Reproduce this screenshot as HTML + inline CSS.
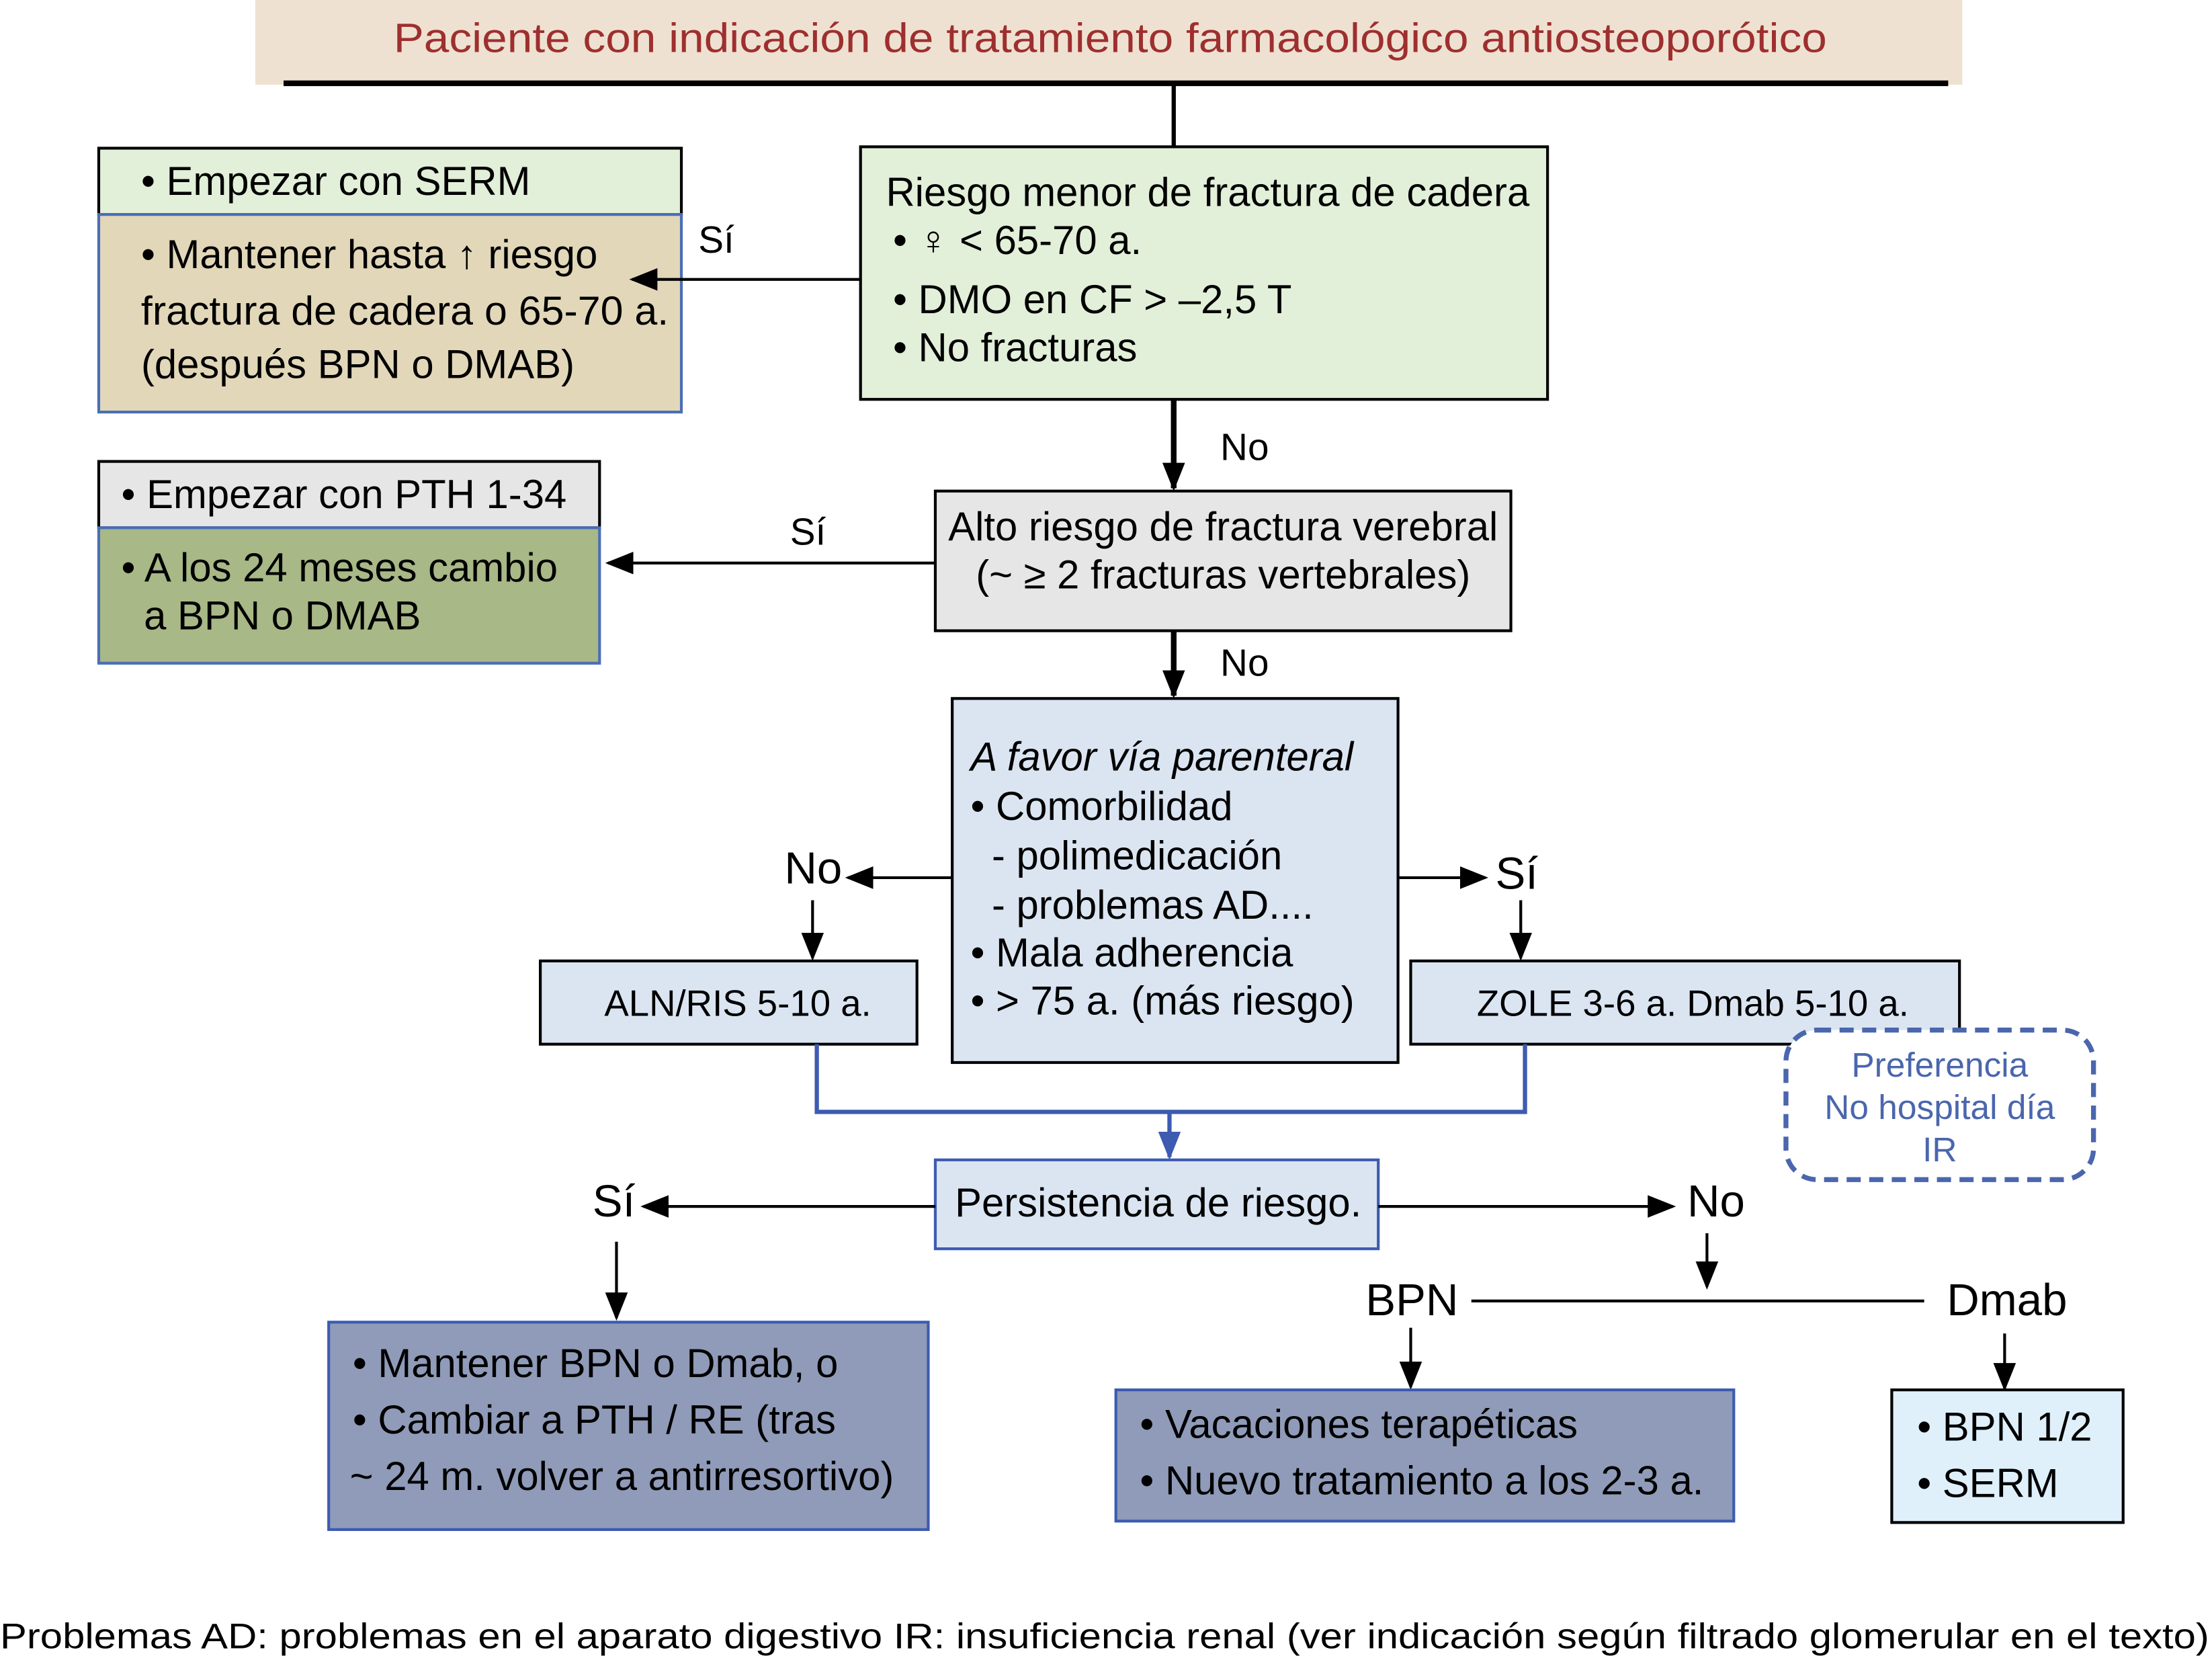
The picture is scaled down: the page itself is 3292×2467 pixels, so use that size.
<!DOCTYPE html>
<html><head><meta charset="utf-8"><style>html,body{margin:0;padding:0;background:#fff}svg{display:block}</style></head>
<body>
<svg xmlns="http://www.w3.org/2000/svg" width="3292" height="2467" viewBox="0 0 1568 1175" font-family="Liberation Sans, Arial, sans-serif">
<defs>
<marker id="ab" markerWidth="20" markerHeight="20" refX="18" refY="10" orient="auto" markerUnits="userSpaceOnUse" viewBox="0 0 20 20"><path d="M0,2 L20,10 L0,18 z" fill="#000"/></marker>
<marker id="bl" markerWidth="20" markerHeight="20" refX="18" refY="10" orient="auto" markerUnits="userSpaceOnUse" viewBox="0 0 20 20"><path d="M0,2 L20,10 L0,18 z" fill="#3d5bb0"/></marker>
</defs>
<rect width="1568" height="1175" fill="#fff"/>
<rect x="181" y="0" width="1210" height="60" fill="#efe1d1"/>
<text x="787" y="37" font-size="29" fill="#9e2f2f" text-anchor="middle" textLength="1016" lengthAdjust="spacingAndGlyphs">Paciente con indicación de tratamiento farmacológico antiosteoporótico</text>
<line x1="201" y1="59" x2="1381" y2="59" stroke="#000" stroke-width="4"/>
<line x1="832" y1="60" x2="832" y2="104" stroke="#000" stroke-width="3"/>
<rect x="610" y="104" width="487" height="179" fill="#e2efd9" stroke="#000" stroke-width="2"/>
<g font-size="28.5" fill="#000">
<text x="628" y="146">Riesgo menor de fractura de cadera</text>
<text x="633" y="180">• ♀ &lt; 65-70 a.</text>
<text x="633" y="222">• DMO en CF &gt; –2,5 T</text>
<text x="633" y="256">• No fracturas</text>
</g>
<text x="495" y="179" font-size="27">Sí</text>
<rect x="70" y="105" width="413" height="47" fill="#e2efd9" stroke="#000" stroke-width="2"/>
<rect x="70" y="152" width="413" height="140" fill="#e2d7b9" stroke="#4a6fb5" stroke-width="2"/>
<g font-size="28.5">
<text x="100" y="138">• Empezar con SERM</text>
<text x="100" y="190">• Mantener hasta ↑ riesgo</text>
<text x="100" y="230" textLength="374" lengthAdjust="spacingAndGlyphs">fractura de cadera o 65-70 a.</text>
<text x="100" y="268">(después BPN o DMAB)</text>
</g>
<line x1="610" y1="198" x2="448" y2="198" stroke="#000" stroke-width="2" marker-end="url(#ab)"/>
<line x1="832" y1="283" x2="832" y2="346" stroke="#000" stroke-width="4" marker-end="url(#ab)"/>
<text x="865" y="326" font-size="27">No</text>
<rect x="663" y="348" width="408" height="99" fill="#e6e6e6" stroke="#000" stroke-width="2"/>
<text x="867" y="383" font-size="28.5" text-anchor="middle">Alto riesgo de fractura verebral</text>
<text x="867" y="417" font-size="28.5" text-anchor="middle">(~ ≥ 2 fracturas vertebrales)</text>
<line x1="663" y1="399" x2="431" y2="399" stroke="#000" stroke-width="2" marker-end="url(#ab)"/>
<text x="560" y="386" font-size="27">Sí</text>
<rect x="70" y="327" width="355" height="47" fill="#e6e6e6" stroke="#000" stroke-width="2"/>
<rect x="70" y="374" width="355" height="96" fill="#a8b886" stroke="#4a6fb5" stroke-width="2"/>
<g font-size="28.5">
<text x="86" y="360">• Empezar con PTH 1-34</text>
<text x="86" y="412">• A los 24 meses cambio</text>
<text x="102" y="446">a BPN o DMAB</text>
</g>
<line x1="832" y1="447" x2="832" y2="493" stroke="#000" stroke-width="4" marker-end="url(#ab)"/>
<text x="865" y="479" font-size="27">No</text>
<rect x="675" y="495" width="316" height="258" fill="#dbe5f2" stroke="#000" stroke-width="2"/>
<g font-size="28.5">
<text x="688" y="546" font-style="italic">A favor vía parenteral</text>
<text x="688" y="581">• Comorbilidad</text>
<text x="703" y="616">- polimedicación</text>
<text x="703" y="651">- problemas AD....</text>
<text x="688" y="685">• Mala adherencia</text>
<text x="688" y="719">• &gt; 75 a. (más riesgo)</text>
</g>
<line x1="675" y1="622" x2="601" y2="622" stroke="#000" stroke-width="2" marker-end="url(#ab)"/>
<text x="556" y="626" font-size="32">No</text>
<line x1="576" y1="638" x2="576" y2="679" stroke="#000" stroke-width="2" marker-end="url(#ab)"/>
<line x1="991" y1="622" x2="1053" y2="622" stroke="#000" stroke-width="2" marker-end="url(#ab)"/>
<text x="1060" y="630" font-size="32">Sí</text>
<line x1="1078" y1="638" x2="1078" y2="679" stroke="#000" stroke-width="2" marker-end="url(#ab)"/>
<rect x="383" y="681" width="267" height="59" fill="#dbe5f2" stroke="#000" stroke-width="2"/>
<text x="523" y="720" font-size="26" text-anchor="middle">ALN/RIS 5-10 a.</text>
<rect x="1000" y="681" width="389" height="59" fill="#dbe5f2" stroke="#000" stroke-width="2"/>
<text x="1200" y="720" font-size="26" text-anchor="middle">ZOLE 3-6 a. Dmab 5-10 a.</text>
<rect x="1266" y="730" width="218" height="106" rx="22" fill="#fff" stroke="#4a66ad" stroke-width="3.5" stroke-dasharray="10,6"/>
<g font-size="24.5" fill="#4a66ad" text-anchor="middle">
<text x="1375" y="763">Preferencia</text>
<text x="1375" y="793">No hospital día</text>
<text x="1375" y="823">IR</text>
</g>
<polyline points="579,740 579,788 1081,788 1081,740" fill="none" stroke="#3d5bb0" stroke-width="3"/>
<line x1="829" y1="788" x2="829" y2="820" stroke="#3d5bb0" stroke-width="3" marker-end="url(#bl)"/>
<rect x="663" y="822" width="314" height="63" fill="#dbe5f2" stroke="#3d5bb0" stroke-width="2"/>
<text x="821" y="862" font-size="28.5" text-anchor="middle">Persistencia de riesgo.</text>
<line x1="663" y1="855" x2="456" y2="855" stroke="#000" stroke-width="2" marker-end="url(#ab)"/>
<text x="420" y="862" font-size="32">Sí</text>
<line x1="437" y1="880" x2="437" y2="934" stroke="#000" stroke-width="2" marker-end="url(#ab)"/>
<line x1="977" y1="855" x2="1186" y2="855" stroke="#000" stroke-width="2" marker-end="url(#ab)"/>
<text x="1196" y="862" font-size="32">No</text>
<line x1="1210" y1="874" x2="1210" y2="912" stroke="#000" stroke-width="2" marker-end="url(#ab)"/>
<line x1="1043" y1="922" x2="1364" y2="922" stroke="#000" stroke-width="2"/>
<text x="968" y="932" font-size="32">BPN</text>
<text x="1380" y="932" font-size="32">Dmab</text>
<line x1="1000" y1="941" x2="1000" y2="983" stroke="#000" stroke-width="2" marker-end="url(#ab)"/>
<line x1="1421" y1="945" x2="1421" y2="984" stroke="#000" stroke-width="2" marker-end="url(#ab)"/>
<rect x="233" y="937" width="425" height="147" fill="#8f9bb8" stroke="#3d5bb0" stroke-width="2"/>
<g font-size="28.5">
<text x="250" y="976">• Mantener BPN o Dmab, o</text>
<text x="250" y="1016">• Cambiar a PTH / RE (tras</text>
<text x="248" y="1056">~ 24 m. volver a antirresortivo)</text>
</g>
<rect x="791" y="985" width="438" height="93" fill="#8f9bb8" stroke="#3d5bb0" stroke-width="2"/>
<g font-size="28.5">
<text x="808" y="1019">• Vacaciones terapéticas</text>
<text x="808" y="1059">• Nuevo tratamiento a los 2-3 a.</text>
</g>
<rect x="1341" y="985" width="164" height="94" fill="#dff0fb" stroke="#000" stroke-width="2"/>
<g font-size="28.5">
<text x="1359" y="1021">• BPN 1/2</text>
<text x="1359" y="1061">• SERM</text>
</g>
<text x="0" y="1168" font-size="25" textLength="1566" lengthAdjust="spacingAndGlyphs">Problemas AD: problemas en el aparato digestivo IR: insuficiencia renal (ver indicación según filtrado glomerular en el texto)</text>
</svg>
</body></html>
